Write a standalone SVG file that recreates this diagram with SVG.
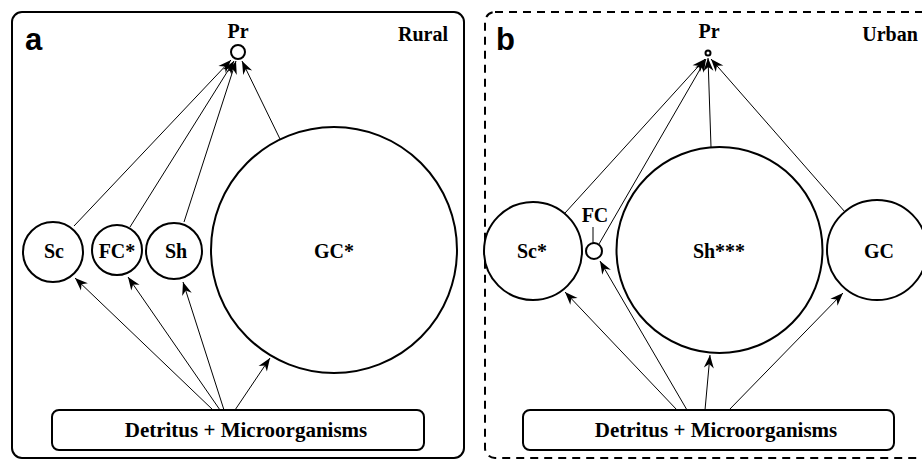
<svg xmlns="http://www.w3.org/2000/svg" width="922" height="460" viewBox="0 0 922 460">
<defs>
<marker id="ah" markerUnits="userSpaceOnUse" markerWidth="13" markerHeight="10" refX="13" refY="5" orient="auto" overflow="visible">
<path d="M0,0 L13,5 L0,10 L4,5 Z" fill="#000"/>
</marker>
<style>
.lbl{font-family:"Liberation Serif","Times New Roman",serif;font-weight:bold;font-size:20px;fill:#000;text-anchor:middle}
.det{font-size:21px}
.pan{font-family:"Liberation Sans",Arial,sans-serif;font-weight:bold;font-size:31px;fill:#000}
.node{fill:#fff;stroke:#000;stroke-width:2}
.edge{stroke:#000;stroke-width:1;fill:none;marker-end:url(#ah)}
.frame{fill:none;stroke:#000;stroke-width:2}
</style>
</defs>
<rect width="922" height="460" fill="#fff"/>
<!-- Panel frames -->
<rect class="frame" x="12" y="12" width="452" height="446" rx="10"/>
<rect class="frame" x="485" y="12" width="450" height="446" rx="10" stroke-dasharray="8,6"/>
<text class="pan" x="25" y="50">a</text>
<text class="pan" x="496" y="50">b</text>
<text class="lbl" x="423" y="41">Rural</text>
<text class="lbl" x="890" y="41">Urban</text>

<!-- Connectors -->
<g id="connectors">
<line class="edge" x1="74" y1="226" x2="231" y2="60"/>
<line class="edge" x1="130" y1="227" x2="234" y2="61"/>
<line class="edge" x1="184" y1="222" x2="236" y2="61"/>
<line class="edge" x1="280" y1="139" x2="242" y2="61"/>
<line class="edge" x1="213" y1="410" x2="75" y2="278"/>
<line class="edge" x1="220" y1="410" x2="128" y2="277"/>
<line class="edge" x1="224" y1="410" x2="183" y2="282"/>
<line class="edge" x1="235" y1="410" x2="270" y2="358"/>

<line class="edge" x1="565" y1="213" x2="705" y2="59"/>
<line class="edge" x1="599" y1="244" x2="706" y2="59"/>
<line class="edge" x1="711" y1="147" x2="708" y2="58"/>
<line class="edge" x1="845" y1="212" x2="711" y2="59"/>
<line class="edge" x1="677" y1="410" x2="565" y2="292"/>
<line class="edge" x1="687" y1="410" x2="600" y2="261"/>
<line class="edge" x1="705" y1="410" x2="710" y2="355"/>
<line class="edge" x1="729" y1="410" x2="843" y2="293"/>
<line stroke="#000" stroke-width="1" x1="593" y1="227" x2="593" y2="243"/>
</g>

<!-- Panel a nodes -->
<g id="a-pr">
<circle class="node" cx="238" cy="52" r="7"/>
<text class="lbl" x="238" y="38">Pr</text>
</g>
<g id="a-sc">
<circle class="node" cx="53" cy="252" r="30"/>
<text class="lbl" x="54" y="258">Sc</text>
</g>
<g id="a-fc">
<circle class="node" cx="117" cy="250" r="25"/>
<text class="lbl" x="117" y="258">FC*</text>
</g>
<g id="a-sh">
<circle class="node" cx="174" cy="251" r="28"/>
<text class="lbl" x="176" y="258">Sh</text>
</g>
<g id="a-gc">
<circle class="node" cx="334" cy="250" r="123"/>
<text class="lbl" x="334" y="258">GC*</text>
</g>
<g id="a-det">
<rect class="node" x="52" y="410" width="372" height="40" rx="7"/>
<text class="lbl det" x="246" y="437">Detritus + Microorganisms</text>
</g>

<!-- Panel b nodes -->
<g id="b-pr">
<circle class="node" cx="708" cy="53" r="2.5" stroke-width="1.2"/>
<text class="lbl" x="709" y="38">Pr</text>
</g>
<g id="b-sc">
<circle class="node" cx="533" cy="251" r="49"/>
<text class="lbl" x="532" y="258">Sc*</text>
</g>
<g id="b-fc">
<circle class="node" cx="594" cy="251" r="8"/>
<text class="lbl" x="595" y="222">FC</text>
</g>
<g id="b-sh">
<circle class="node" cx="719.5" cy="250" r="103"/>
<text class="lbl" x="719" y="258">Sh***</text>
</g>
<g id="b-gc">
<circle class="node" cx="877" cy="250" r="50"/>
<text class="lbl" x="879" y="258">GC</text>
</g>
<g id="b-det">
<rect class="node" x="523" y="410" width="371" height="40" rx="7"/>
<text class="lbl det" x="716" y="437">Detritus + Microorganisms</text>
</g>
</svg>
